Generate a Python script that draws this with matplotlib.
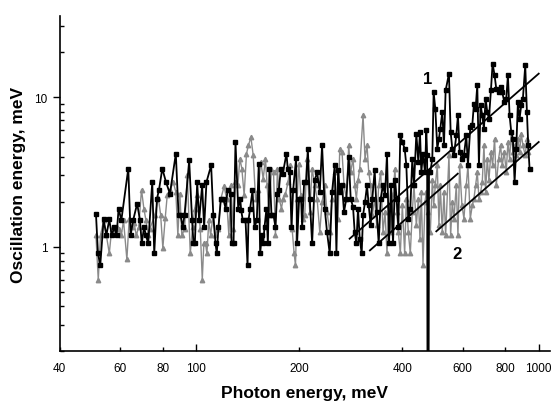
import matplotlib.pyplot as plt
from matplotlib.ticker import FixedLocator, NullFormatter, LogLocator

plt.rcParams['font.family'] = ['Liberation Sans', 'DejaVu Sans']

# === ДАННЫЕ ===

# серия 1 - черные квадраты
black_e = [51.1, 51.8, 52.6, 53.8, 54.8, 55.9, 56.8, 57.8, 58.7, 59.5, 60.6, 63.5, 64.5, 65.6, 67.4,
           68.7, 69.5, 70.6, 71.5, 72.6, 74.6, 75.6, 77.0, 78.0, 79.8, 81.8, 84.0, 87.4, 89.0, 90.2,
           91.5, 92.7, 95.6, 97.5, 98.4, 99.3, 100.9, 102.2, 104.3, 105.7, 107.4, 110.8, 112.4, 114.1,
           115.1, 116.4, 118.3, 120.2, 122.1, 123.7, 126.2, 127.1, 128.8, 130.5, 132.9, 134.7, 135.6,
           137.1, 139.6, 141.5, 142.4, 144.0, 146.3, 148.3, 150.6, 152.6, 154.0, 155.8, 157.2, 158.6,
           160.7, 162.2, 164.0, 166.2, 168.4, 170.7, 172.6, 174.6, 177.0, 179.3, 183.8, 185.4, 188.0,
           190.1, 192.2, 196.1, 197.4, 200.1, 202.8, 204.2, 207.0, 209.8, 212.2,
           214.9, 218.4, 222.3, 225.8, 229.9, 233.5, 237.7, 241.4, 245.8, 249.7, 254.2, 257.1, 260.0,
           262.9, 267.0, 270.6, 274.9, 279.3, 283.0, 287.5, 290.7, 294.0, 297.3, 300.7, 304.7, 307.5,
           311.6, 315.8, 319.4, 323.7, 327.3, 332.5, 337.0, 341.6, 346.2, 351.6, 356.4, 361.2, 366.1,
           371.0, 376.1, 381.1, 385.4, 389.8, 395.0, 400.4, 406.7, 411.3, 416.8, 422.4, 428.1, 433.0,
           439.9, 445.8, 450.8, 454.9, 460.0, 466.2, 470.4, 473.0, 475.7, 479.0, 483.2, 489.7, 494.1,
           499.7, 506.4, 512.1, 516.7, 523.7, 529.6, 535.6, 547.7, 553.9, 560.1, 566.4, 575.3, 581.8,
           588.4, 597.7, 605.7, 615.3, 622.2, 632.1, 640.6, 647.8, 655.1, 662.5, 669.9, 677.5, 685.1,
           692.8, 700.6, 708.5, 716.5, 726.1, 734.3, 744.2, 752.6, 764.5, 774.8, 783.5, 794.1, 804.8,
           813.9, 823.1, 832.3, 841.7, 851.2, 860.7, 870.4, 880.2, 890.1, 900.1, 914.4, 924.7, 933.0,
           941.3]
black_v = [1.66, 0.90, 0.75, 1.52, 1.19, 1.52, 1.19, 1.35, 1.19, 1.80, 1.50, 3.33, 1.19, 1.50, 1.94,
           1.50, 1.05, 1.35, 1.19, 1.05, 2.71, 0.90, 2.10, 2.38, 3.33, 2.71, 2.26, 4.19, 1.64, 1.64,
           1.35, 1.64, 3.78, 1.50, 1.05, 1.05, 2.71, 1.50, 2.57, 1.35, 2.71, 3.50, 1.64, 1.05,
           0.90, 1.35, 2.10, 2.10, 1.80, 2.38, 2.26, 1.05, 1.05, 5.02, 1.80, 2.10, 1.75,
           1.50, 1.50, 0.75, 1.50, 1.80, 2.38, 1.35, 1.50, 3.59, 0.90, 1.19, 1.05, 1.35,
           1.80, 1.05, 3.33, 1.64, 1.64, 1.35, 2.26, 2.38, 3.33, 3.08, 4.19, 3.33, 3.16,
           1.35, 2.38, 3.92, 1.05, 2.10, 2.10, 1.35, 2.71, 2.71, 4.53,
           2.10, 1.05, 2.78, 3.16, 2.32, 4.77, 1.80, 1.25, 0.90, 2.32, 3.50, 0.90, 3.24,
           2.32, 2.57, 1.71, 2.10, 3.98, 2.10, 1.84, 1.25, 1.05, 1.80, 1.13, 0.90, 1.62,
           1.99, 2.57, 1.89, 1.39, 2.10, 3.24, 1.71, 1.05, 2.10, 2.57, 2.21, 4.19, 1.05,
           2.57, 1.05, 2.78, 2.10, 1.35, 5.56, 5.02, 4.53, 3.50, 1.54, 1.80, 3.88, 2.57,
           5.71, 3.69, 5.86, 3.16, 4.19, 3.16, 6.01, 4.09, 0.001, 3.16, 3.16, 3.88, 10.85,
           8.39, 4.53, 5.28, 6.16, 7.97, 4.77, 11.13, 14.39, 5.86, 4.53, 4.09, 5.56, 7.57,
           4.30, 3.88, 4.09, 5.56, 3.50, 6.32, 6.49, 9.06, 8.39, 12.02, 3.50, 8.83, 7.57,
           6.16, 9.79, 7.97, 7.19, 11.13, 16.79, 14.02, 11.42, 10.85, 11.72, 10.85, 9.30, 9.79,
           14.02, 7.57, 5.86, 5.28, 2.71, 4.53, 9.30, 7.19, 8.83, 9.79, 16.36, 7.97, 4.77,
           3.33]

# серия 2 - серые треугольники
gray_e = [51.1, 51.9, 52.7, 53.8, 54.8, 55.9, 56.8, 57.8, 58.7, 59.5, 60.6, 61.5, 62.9, 63.9, 64.9,
          66.0, 67.0, 68.1, 69.4, 70.5, 71.5, 72.6, 73.4, 75.9, 77.7, 78.9, 80.1, 81.4, 82.5, 84.0,
          85.9, 87.4, 88.6, 89.8, 91.0, 92.7, 94.4, 96.3, 97.8, 99.3, 100.9, 103.0, 104.4, 105.5,
          106.7, 107.7, 109.1, 110.4, 112.3, 113.9, 116.2, 118.3, 120.9, 122.9, 124.8, 126.5, 128.5,
          130.5, 132.6, 134.4, 136.2, 138.3, 140.5, 142.4, 144.7, 147.0, 149.3, 152.0, 154.7, 157.2,
          159.6, 161.4, 163.6, 166.2, 168.5, 170.7, 173.0, 175.0, 177.7, 179.7, 182.6, 185.9, 188.0,
          190.9, 193.5, 195.3, 197.5, 199.7, 202.4, 205.1, 207.9, 210.7,
          214.9, 218.4, 222.3, 225.8, 229.9, 233.5, 237.7, 241.4, 245.8, 249.7, 254.2, 260.0,
          262.9, 267.0, 270.6, 274.9, 279.3, 283.0, 287.5, 290.7, 294.0, 297.3, 300.7, 307.5,
          311.6, 315.8, 319.4, 323.7, 327.3, 332.5, 337.0, 341.6, 346.2, 351.6, 356.4, 361.2,
          366.1, 371.0, 376.1, 381.1, 385.4, 389.8, 395.0, 400.4, 406.7, 411.3, 416.8, 422.4,
          428.1, 433.0, 439.9, 445.8, 450.8, 454.9, 460.0, 466.2, 470.4, 476.8, 483.2, 489.7,
          494.1, 499.7, 506.4, 512.1, 516.7, 523.7, 529.6, 535.6, 547.7, 553.9, 560.1, 566.4,
          575.3, 581.8, 588.4, 597.7, 605.7, 615.3, 622.2, 632.1, 640.6, 647.8, 655.1, 662.5,
          669.9, 677.5, 685.1, 692.8, 700.6, 708.5, 716.5, 726.1, 734.3, 744.2, 752.6, 764.5,
          774.8, 783.5, 794.1, 804.8, 813.9, 823.1, 832.3, 841.7, 851.2, 860.7, 870.4, 880.2,
          890.1, 900.1, 914.4, 924.7, 933.0]
gray_v = [1.19, 0.60, 1.19, 1.50, 1.19, 0.90, 1.32, 1.32, 1.35, 1.32, 1.19, 1.50, 0.82, 1.54, 1.35,
          1.45, 1.19, 1.35, 2.41, 1.80, 1.50, 1.19, 1.32, 1.62, 2.12, 1.64, 0.98, 1.56, 2.21, 2.38,
          2.71, 2.32, 1.19, 2.26, 1.19, 1.32, 3.00, 0.90, 1.35, 1.80, 2.21, 1.32, 0.60, 1.05,
          1.05, 0.90, 1.50, 1.19, 1.64, 1.19, 1.32, 2.10, 2.53, 2.10, 1.19, 2.57, 1.32,
          2.71, 2.57, 3.88, 3.33, 2.21, 4.19, 4.77, 5.42, 4.09, 2.10, 2.38, 3.69, 2.85,
          3.88, 2.57, 1.62, 3.33, 3.16, 1.19, 3.33, 2.10, 1.80, 2.10, 2.26, 2.71, 3.50,
          1.32, 0.90, 0.75, 2.10, 3.59, 2.21, 1.54, 1.64, 3.88,
          1.71, 3.33, 2.57, 2.10, 1.25, 1.99, 2.57, 1.71, 1.25, 2.10, 3.16, 1.54,
          4.53, 4.30, 2.57, 2.10, 4.77, 3.16, 3.88, 2.57, 2.10, 2.78, 3.33, 7.57,
          3.88, 4.77, 3.16, 2.57, 1.62, 2.10, 1.39, 2.57, 3.16, 1.25, 1.71, 0.90,
          1.89, 1.25, 2.26, 3.33, 1.71, 1.25, 0.90, 1.89, 0.90, 2.10, 1.25, 0.90,
          1.71, 2.57, 1.39, 2.10, 1.13, 2.32, 0.75, 1.99, 2.32, 1.71, 1.25, 2.78,
          1.89, 2.57, 3.50, 1.39, 2.57, 1.25, 2.32, 1.19, 4.09, 1.19, 1.99, 1.54,
          2.57, 1.19, 3.50, 1.89, 1.54, 2.57, 3.50, 1.54, 1.89, 2.10, 2.57, 3.16,
          2.10, 2.32, 2.71, 4.77, 2.32, 3.88, 2.78, 4.30, 3.50, 5.28, 2.57, 3.88,
          4.77, 3.50, 4.30, 3.16, 5.02, 3.88, 5.86, 4.30, 4.77, 4.09, 5.28, 4.30,
          5.71, 4.77, 4.09, 5.28, 4.30]

# прямые с наклоном 2 (log-log)
fit1_e = [281, 1001]
fit1_v = [1.13, 14.4]
fit1b_e = [322, 581]
fit1b_v = [0.944, 3.08]
fit2_e = [503, 1001]
fit2_v = [1.266, 5.02]

x_major = [100, 1000]
x_minor = [40, 60, 80, 200, 400, 600, 800]

# === ГРАФИК ===
fig = plt.figure(figsize=(5.53, 4.06), dpi=100)
ax = fig.add_axes([0.1076, 0.133, 0.887, 0.825])

ax.plot(gray_e, gray_v, color='#8a8a8a', lw=1.0, marker='^', ms=3.2, mec='#8a8a8a', mfc='#8a8a8a')
ax.plot(black_e, black_v, color='black', lw=1.3, marker='s', ms=2.2)

for e, v in [(fit1_e, fit1_v), (fit1b_e, fit1b_v), (fit2_e, fit2_v)]:
    ax.plot(e, v, color='black', lw=1.3)

ax.text(475, 13.3, '1', fontsize=12, fontweight='bold', ha='center', va='center')
ax.text(577, 0.9, '2', fontsize=12, fontweight='bold', ha='center', va='center')

ax.set_xscale('log')
ax.set_yscale('log')
ax.set_xlim(40, 1080)
ax.set_ylim(0.2, 35)

ax.xaxis.set_major_locator(FixedLocator(x_major))
ax.xaxis.set_minor_locator(FixedLocator(x_minor))
ax.xaxis.set_major_formatter(plt.FuncFormatter(lambda v, p: f'{v:g}'))
ax.xaxis.set_minor_formatter(plt.FuncFormatter(lambda v, p: f'{v:g}'))
ax.yaxis.set_major_locator(FixedLocator([1, 10]))
ax.yaxis.set_minor_locator(LogLocator(base=10, subs=range(2, 10)))
ax.yaxis.set_minor_formatter(NullFormatter())
ax.yaxis.set_major_formatter(plt.FuncFormatter(lambda v, p: f'{v:g}'))

ax.tick_params(axis='x', which='major', direction='in', length=5, width=1, labelsize=8.5, pad=8)
ax.tick_params(axis='x', which='minor', direction='in', length=3, width=1, labelsize=8.5, pad=8)
ax.tick_params(axis='y', which='major', direction='out', length=5, width=1, labelsize=8.5)
ax.tick_params(axis='y', which='minor', direction='in', length=3, width=1)

for side in ['top', 'right']:
    ax.spines[side].set_visible(False)
for side in ['left', 'bottom']:
    ax.spines[side].set_linewidth(1.2)

ax.set_xlabel('Photon energy, meV', fontsize=12.5, fontweight='bold', labelpad=8)
ax.set_ylabel('Oscillation energy, meV', fontsize=12.5, fontweight='bold', labelpad=6)

fig.savefig('out.png', dpi=100)
